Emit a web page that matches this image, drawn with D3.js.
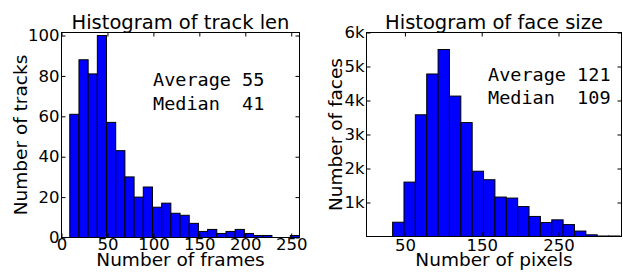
<!DOCTYPE html>
<html>
<head>
<meta charset="utf-8">
<style>
body{
    margin: 0;
    background: white;
}
text{
    font-family: "DejaVu Sans", sans-serif;
}
.mono{
    font-family: "DejaVu Sans Mono", monospace;
    white-space: pre;
}
</style>
<script src="https://d3js.org/d3.v7.min.js"></script>
</head>
<body>
<script>
// track length histogram (bins of 10 frames starting at 9)
var trackStart = 9
var trackWidth = 10
var trackCounts = [61, 88, 81, 100, 57, 43, 30, 20, 25, 15, 17, 12, 11, 7, 3, 4, 2, 3, 4, 2, 1, 1, 0, 0, 1]
var trackXTicks = [0, 50, 100, 150, 200, 250]
var trackYTicks = [0, 20, 40, 60, 80, 100]
var trackStats = ["Average 55", "Median  41"]

// face size histogram
var faceStart = 34
var faceWidth = 14.8
var faceCounts = [420, 1600, 3580, 4780, 5500, 4130, 3350, 1920, 1670, 1160, 1130, 880, 590, 410, 490, 350, 160, 50, 15, 15]
var faceXTicks = [50, 150, 250]
var faceYTicks = [1000, 2000, 3000, 4000, 5000, 6000]
var faceStats = ["Average 121", "Median  109"]

var W = 623, H = 272

var svg = d3.select("body")
            .append("svg")
            .attr("width", W)
            .attr("height", H)

function histogram(opt){
    var x = d3.scaleLinear().domain(opt.xdom).range([opt.left, opt.right])
    var y = d3.scaleLinear().domain(opt.ydom).range([opt.bottom, opt.top])
    var g = svg.append("g")

    var bins = opt.counts.map(function(c, i){
        return {x0: opt.start + i*opt.width, x1: opt.start + (i+1)*opt.width, n: c}
    })

    g.selectAll("rect")
     .data(bins)
     .enter()
     .append("rect")
     .attr("x", function(d){ return x(d.x0) })
     .attr("width", function(d){ return x(d.x1) - x(d.x0) })
     .attr("y", function(d){ return y(d.n) })
     .attr("height", function(d){ return y(0) - y(d.n) })
     .attr("fill", "#0000ff")
     .attr("stroke", "#000")
     .attr("stroke-width", 1)

    // axes, ticks pointing in
    var bottom = d3.axisBottom(x).tickValues(opt.xticks).tickSize(-4).tickPadding(opt.xpad).tickFormat(opt.xfmt)
    var top = d3.axisTop(x).tickValues(opt.xticks).tickSize(-4).tickFormat("")
    var left = d3.axisLeft(y).tickValues(opt.yticks).tickSize(-4).tickPadding(opt.ypad).tickFormat(opt.yfmt)
    var right = d3.axisRight(y).tickValues(opt.yticks).tickSize(-4).tickFormat("")

    g.append("g").attr("transform", "translate(0," + opt.bottom + ")").call(bottom)
    g.append("g").attr("transform", "translate(0," + opt.top + ")").call(top)
    g.append("g").attr("transform", "translate(" + opt.left + ",0)").call(left)
    g.append("g").attr("transform", "translate(" + opt.right + ",0)").call(right)

    g.selectAll(".domain").remove()
    g.selectAll(".tick text")
     .attr("font-family", "DejaVu Sans")
     .attr("font-size", "16.5px")
     .attr("fill", "#000")

    g.append("rect")
     .attr("x", opt.left)
     .attr("y", opt.top)
     .attr("width", opt.right - opt.left)
     .attr("height", opt.bottom - opt.top)
     .attr("fill", "none")
     .attr("stroke", "#000")
     .attr("stroke-width", 1)

    var cx = (opt.left + opt.right) / 2
    g.append("text")
     .attr("x", cx)
     .attr("y", 29)
     .attr("text-anchor", "middle")
     .attr("font-size", "19.5px")
     .text(opt.title)

    g.append("text")
     .attr("x", cx)
     .attr("y", 266)
     .attr("text-anchor", "middle")
     .attr("font-size", "18.5px")
     .text(opt.xlabel)

    g.append("text")
     .attr("transform", "translate(" + opt.ylabelX + "," + (opt.top + opt.bottom)/2 + ") rotate(-90)")
     .attr("text-anchor", "middle")
     .attr("font-size", "18.5px")
     .text(opt.ylabel)

    g.selectAll(".stat")
     .data(opt.stats)
     .enter()
     .append("text")
     .attr("class", "mono")
     .attr("x", opt.statX)
     .attr("y", function(d, i){ return opt.statY + i*opt.statDy })
     .attr("font-size", "18.5px")
     .text(function(d){ return d })
}

histogram({
    counts: trackCounts, start: trackStart, width: trackWidth,
    xdom: [0, 259], ydom: [0, 101.5],
    left: 61.5, right: 299.5, top: 32.5, bottom: 237.5,
    xticks: trackXTicks, yticks: trackYTicks,
    xfmt: d3.format("d"), yfmt: d3.format("d"),
    xpad: 1, ypad: 2,
    title: "Histogram of track len", xlabel: "Number of frames", ylabel: "Number of tracks",
    ylabelX: 27,
    stats: trackStats, statX: 153, statY: 86, statDy: 24
})

histogram({
    counts: faceCounts, start: faceStart, width: faceWidth,
    xdom: [0, 332], ydom: [0, 6000],
    left: 366.5, right: 621.5, top: 32.5, bottom: 236.5,
    xticks: faceXTicks, yticks: faceYTicks,
    xfmt: d3.format("d"), yfmt: function(d){ return (d/1000) + "k" },
    xpad: 3, ypad: 2,
    title: "Histogram of face size", xlabel: "Number of pixels", ylabel: "Number of faces",
    ylabelX: 342,
    stats: faceStats, statX: 488, statY: 81, statDy: 22.5
})
</script>
</body>
</html>
